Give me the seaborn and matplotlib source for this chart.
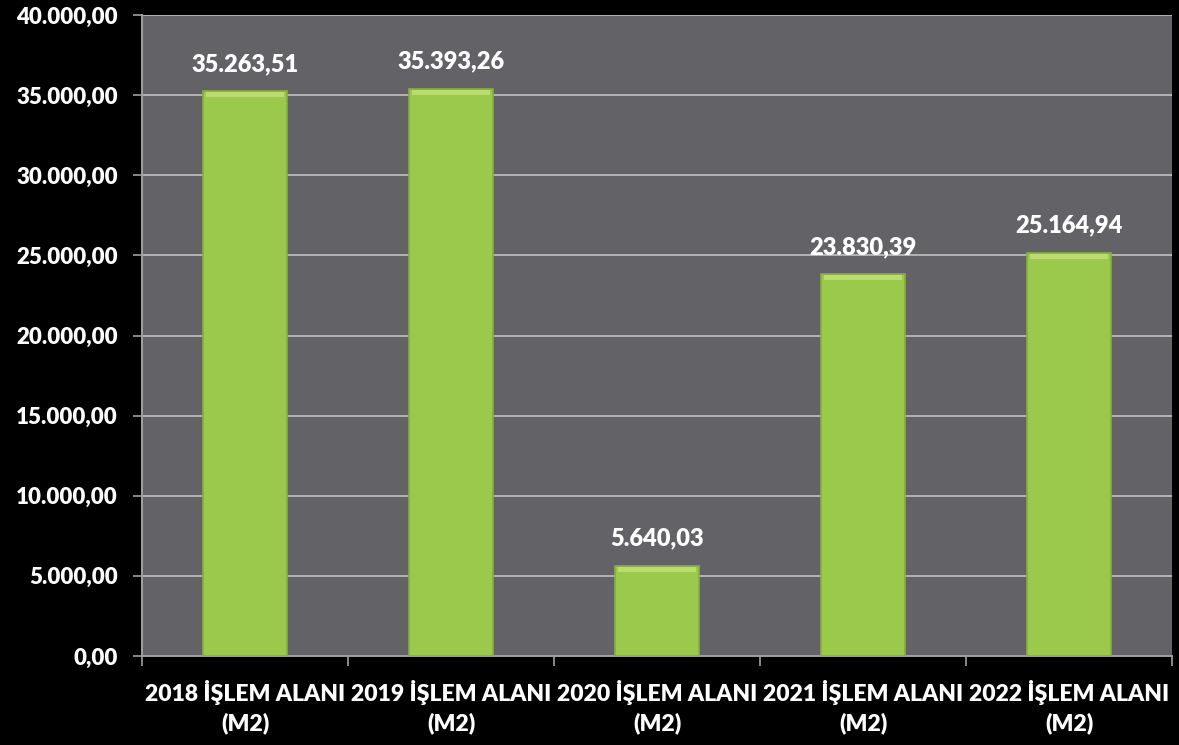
import matplotlib
matplotlib.use("Agg")
import matplotlib.pyplot as plt
from matplotlib.ticker import FuncFormatter, FixedLocator
import seaborn as sns
import pandas as pd

# Data
categories = ["2018 İŞLEM ALANI\n(M2)", "2019 İŞLEM ALANI\n(M2)", "2020 İŞLEM ALANI\n(M2)",
              "2021 İŞLEM ALANI\n(M2)", "2022 İŞLEM ALANI\n(M2)"]
values = [35263.51, 35393.26, 5640.03, 23830.39, 25164.94]
y_ticks = [0, 5000, 10000, 15000, 20000, 25000, 30000, 35000, 40000]


def tr_fmt(v, pos=None):
    s = f"{v:,.2f}"
    return s.replace(",", "X").replace(".", ",").replace("X", ".")


df = pd.DataFrame({"kategori": categories, "alan": values})

sns.set_style("dark")
plt.rcParams['font.family'] = ['Lato', 'DejaVu Sans']
plt.rcParams['font.weight'] = 'bold'

fig = plt.figure(figsize=(11.79, 7.45), dpi=100)
fig.patch.set_facecolor("black")
ax = fig.add_axes([142 / 1179, 89 / 745, 1030 / 1179, 641 / 745])
ax.set_facecolor("#636367")

sns.barplot(data=df, x="kategori", y="alan", color="#9BC94B", width=0.41,
            edgecolor="#86AE3E", linewidth=1.2, saturation=1, ax=ax, zorder=3)

# bevel highlight on bar tops
for p in ax.patches:
    x0, w, h = p.get_x(), p.get_width(), p.get_height()
    ax.add_patch(plt.Rectangle((x0 + w * 0.04, h - 380), w * 0.92, 300,
                               facecolor="#C9E57F", edgecolor="none", zorder=4, alpha=0.7))

for i, v in enumerate(values):
    ax.text(i, v + 1000, tr_fmt(v), ha="center", va="bottom", color="white",
            fontsize=17, fontweight="heavy", zorder=5)

ax.set_ylim(0, 40000)
ax.set_xlim(-0.5, len(categories) - 0.5)
ax.yaxis.set_major_locator(FixedLocator(y_ticks))
ax.yaxis.set_major_formatter(FuncFormatter(tr_fmt))
ax.grid(axis="y", color="#B4B4B4", linewidth=1.4, zorder=1)
ax.grid(axis="x", visible=False)
ax.set_axisbelow(True)

ax.tick_params(axis="y", colors="#A0A0A0", labelcolor="white", labelsize=16,
               length=6.5, width=1.2, left=True, pad=11)
ax.tick_params(axis="x", which="major", length=0, labelcolor="white", labelsize=16.5, pad=17)
ax.set_xticks([i - 0.5 for i in range(len(categories) + 1)], minor=True)
ax.tick_params(axis="x", which="minor", length=7, width=1.2, colors="#A0A0A0", bottom=True)
for lab in ax.get_xticklabels() + ax.get_yticklabels():
    lab.set_fontweight("heavy")
    lab.set_linespacing(1.45)

ax.set_xlabel("")
ax.set_ylabel("")
for side in ["top", "right"]:
    ax.spines[side].set_visible(False)
ax.spines["left"].set_color("#A0A0A0")
ax.spines["bottom"].set_color("#A0A0A0")
ax.spines["left"].set_linewidth(1.4)
ax.spines["bottom"].set_linewidth(1.4)

fig.savefig("out.png", dpi=100, facecolor="black")
